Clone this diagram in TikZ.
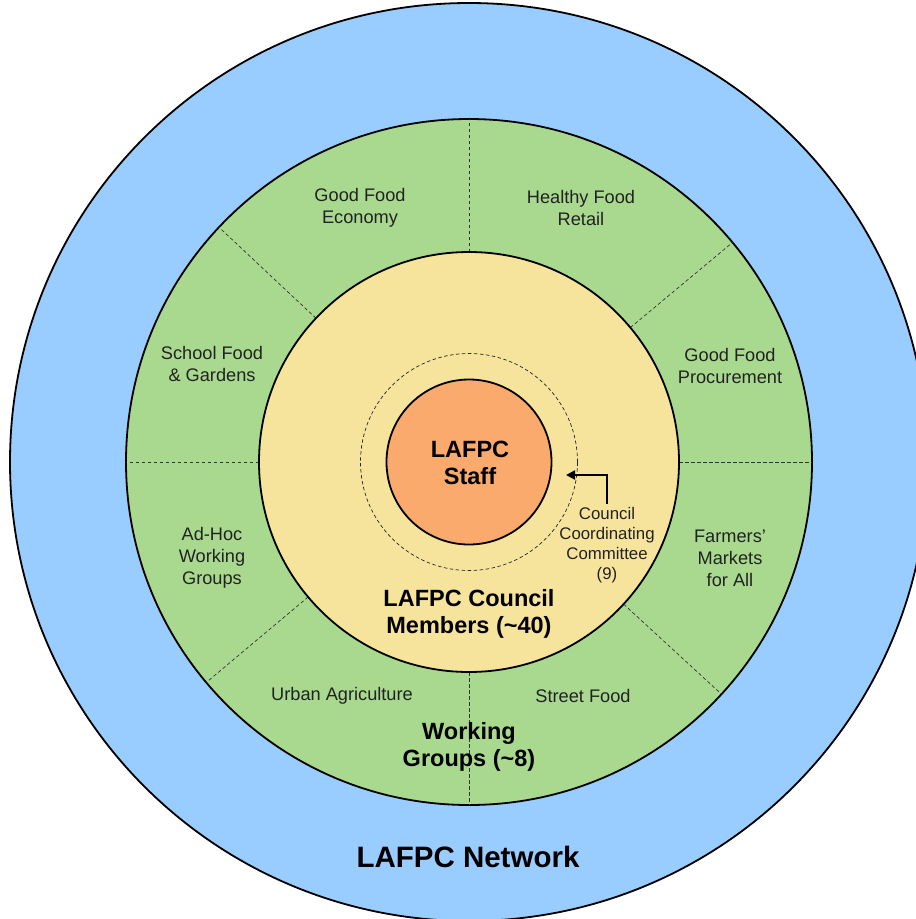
\documentclass[tikz,border=0pt]{standalone}
\usepackage{fontspec}
\setmainfont{Liberation Sans}
\usetikzlibrary{arrows.meta,calc}
\definecolor{netblue}{HTML}{99CCFF}
\definecolor{wggreen}{HTML}{A8D98F}
\definecolor{cmyellow}{HTML}{F6E39C}
\definecolor{stforange}{HTML}{F9AA6C}
\definecolor{txtgray}{HTML}{222222}
\begin{document}
\begin{tikzpicture}[x=1pt,y=-1pt,
  ring/.style={circle, draw=black, line width=1.8pt, inner sep=0pt},
  divider/.style={draw=black!80, line width=0.7pt, dash pattern=on 3.5pt off 2.5pt},
  wglabel/.style={align=center, text=txtgray, font=\fontsize{18.2}{22}\selectfont},
  biglabel/.style={align=center, text=black, font=\bfseries\fontsize{23.5}{27.5}\selectfont},
]
\useasboundingbox (0,0) rectangle (916,919);
\coordinate (c) at (469,462);
\node[ring, fill=netblue, minimum size=918pt] (network) at (c) {};
\node[ring, fill=wggreen, minimum size=686pt] (groups) at (c) {};
% dividers in the working group ring
\foreach \a in {-90,90,0,180,-136.8,-39.8,140,42.6}{
  \draw[divider] ($(c)+(\a:210)$) -- ($(c)+(\a:343)$);
}
\node[ring, fill=cmyellow, minimum size=420pt] (council) at (c) {};
\node[circle, draw=black!85, line width=0.7pt, dash pattern=on 3.5pt off 2.5pt, minimum size=217pt, inner sep=0pt] (ccring) at (c) {};
\node[ring, fill=stforange, minimum size=165pt] (staff) at (c) {};
% labels
\node[wglabel] (gfe) at (360,208) {Good Food\\Economy};
\node[wglabel] (hfr) at (581,208) {Healthy Food\\Retail};
\node[wglabel] (sfg) at (212,364) {School Food\\\& Gardens};
\node[wglabel] (gfp) at (730,366) {Good Food\\Procurement};
\node[wglabel] (ahw) at (212,558) {Ad-Hoc\\Working\\Groups};
\node[wglabel] (fma) at (730,558) {Farmers’\\Markets\\for All};
\node[wglabel] (ua) at (342,696) {Urban Agriculture};
\node[wglabel] (sf) at (583,696) {Street Food};
\node[biglabel] (wg) at (469,747) {Working\\Groups (\char`~8)};
\node[biglabel] (cm) at (469,614) {LAFPC Council\\Members (\char`~40)};
\node[biglabel] (st) at (470,463) {LAFPC\\Staff};
\node[align=center, text=txtgray, font=\fontsize{16.8}{20}\selectfont] (ccc) at (607,545) {Council\\Coordinating\\Committee\\(9)};
\node[text=black, font=\bfseries\fontsize{29.5}{34}\selectfont] (net) at (468,857) {LAFPC Network};
% arrow
\coordinate (tip) at (566,475);
\draw[line width=2pt, -{Triangle[length=9pt,width=9pt]}] (ccc.north) |- (tip);
\end{tikzpicture}
\end{document}
